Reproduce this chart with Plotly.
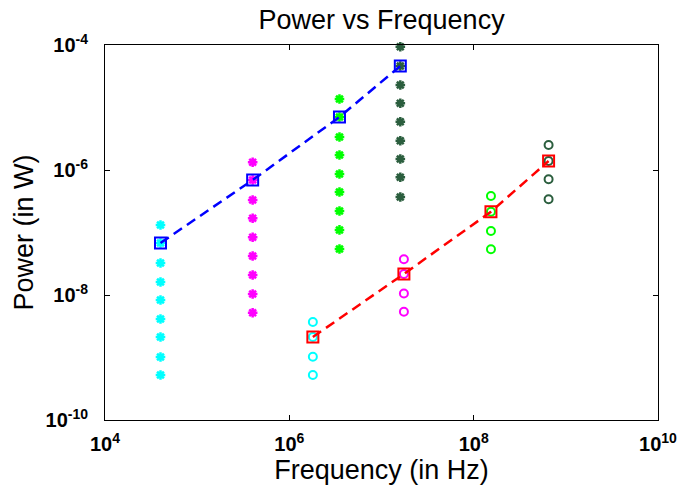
import plotly.graph_objects as go

# Star columns (frequencies in Hz, powers in W)
star_freqs = [4e4, 4e5, 3.5e6, 1.6e7]
star_cyan = [1.32e-7, 6.79e-8, 3.25e-8, 1.61e-8, 8.3e-9, 4.13e-9, 2.13e-9, 1.02e-9, 5.25e-10]
star_magenta = [1.33e-6, 6.92e-7, 3.31e-7, 1.69e-7, 8.38e-8, 4.21e-8, 2.09e-8, 1.04e-8, 5.21e-9]
star_green = [1.37e-5, 7.05e-6, 3.37e-6, 1.74e-6, 8.63e-7, 4.45e-7, 2.21e-7, 1.10e-7, 5.45e-8]
star_darkgreen = [9.39e-5, 4.61e-5, 2.29e-5, 1.17e-5, 5.93e-6, 2.94e-6, 1.50e-6, 7.64e-7, 3.70e-7]

# Circle columns
circle_freqs = [1.8e6, 1.75e7, 1.54e8, 6.5e8]
circle_cyan = [3.70e-9, 2.13e-9, 1.03e-9, 5.25e-10]
circle_magenta = [3.73e-8, 2.17e-8, 1.06e-8, 5.4e-9]
circle_green = [3.84e-7, 2.15e-7, 1.06e-7, 5.39e-8]
circle_darkgreen = [2.51e-6, 1.39e-6, 7.10e-7, 3.40e-7]

# Fitted lines (square markers)
blue_x = [4e4, 4e5, 3.5e6, 1.6e7]
blue_y = [6.79e-8, 6.92e-7, 7.05e-6, 4.61e-5]
red_x = [1.8e6, 1.75e7, 1.54e8, 6.5e8]
red_y = [2.13e-9, 2.17e-8, 2.15e-7, 1.39e-6]

x_tickvals = [1e4, 1e6, 1e8, 1e10]
x_ticktext = ["10<sup>4</sup>", "10<sup>6</sup>", "10<sup>8</sup>", "10<sup>10</sup>"]
y_tickvals = [1e-10, 1e-8, 1e-6, 1e-4]
y_ticktext = ["10<sup>-10</sup>", "10<sup>-8</sup>", "10<sup>-6</sup>", "10<sup>-4</sup>"]

colors = ["#00FFFF", "#FF00FF", "#00FF00", "#2B5E3E"]
FONT = "Liberation Sans, Arial, sans-serif"

fig = go.Figure()

for f, vals, c in zip(star_freqs, [star_cyan, star_magenta, star_green, star_darkgreen], colors):
    fig.add_trace(go.Scatter(
        x=[f] * len(vals), y=vals, mode="markers", cliponaxis=False,
        marker=dict(symbol="asterisk-open", size=8, color=c, line=dict(color=c, width=2.5)),
        showlegend=False))

for f, vals, c in zip(circle_freqs, [circle_cyan, circle_magenta, circle_green, circle_darkgreen], colors):
    fig.add_trace(go.Scatter(
        x=[f] * len(vals), y=vals, mode="markers", cliponaxis=False,
        marker=dict(symbol="circle-open", size=8, color=c, line=dict(color=c, width=2)),
        showlegend=False))

fig.add_trace(go.Scatter(
    x=blue_x, y=blue_y, mode="lines+markers", cliponaxis=False,
    line=dict(color="#0000FF", width=2.5, dash="10px,6px"),
    marker=dict(symbol="square-open", size=11, color="#0000FF", line=dict(color="#0000FF", width=2)),
    showlegend=False))
fig.add_trace(go.Scatter(
    x=red_x, y=red_y, mode="lines+markers", cliponaxis=False,
    line=dict(color="#FF0000", width=2.5, dash="10px,6px"),
    marker=dict(symbol="square-open", size=11, color="#FF0000", line=dict(color="#FF0000", width=2)),
    showlegend=False))

axis_common = dict(
    showline=True, linecolor="black", linewidth=1, mirror="ticks", automargin=False,
    ticks="inside", ticklen=5, tickcolor="black", showgrid=False, zeroline=False,
    tickfont=dict(family=FONT, size=20, color="black", weight="bold"),
)

fig.update_xaxes(type="log", range=[4, 10], tickvals=x_tickvals, ticktext=x_ticktext,
                 title=dict(text="Frequency (in Hz)", font=dict(family=FONT, size=27, color="black"), standoff=0),
                 ticklabelstandoff=6, **axis_common)
fig.update_yaxes(type="log", range=[-10, -4], tickvals=y_tickvals, ticktext=y_ticktext,
                 title=dict(text="Power (in W)", font=dict(family=FONT, size=27, color="black"), standoff=4),
                 ticklabelstandoff=12, **axis_common)

fig.update_layout(
    width=679, height=485,
    margin=dict(l=105, r=21, t=45, b=65, autoexpand=False),
    paper_bgcolor="white", plot_bgcolor="white",
    title=dict(text="Power vs Frequency", x=0.562, xanchor="center", y=0.96, yanchor="middle",
               font=dict(family=FONT, size=27, color="black"), automargin=False),
)

# remove the browser's default body margin so the figure fills the window exactly
fig.write_html("out.html", config={"displayModeBar": False},
               post_script="document.body.style.margin='0';")
